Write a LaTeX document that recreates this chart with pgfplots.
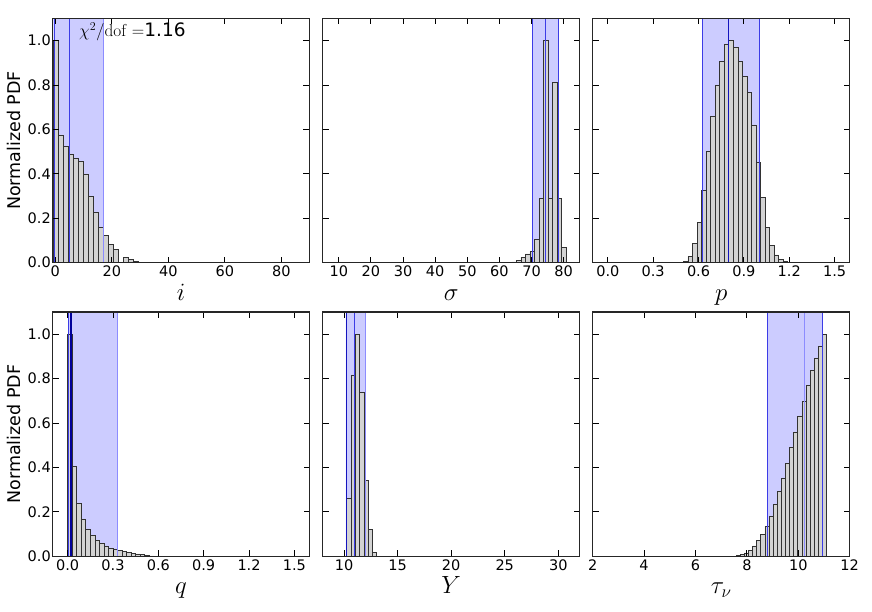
\documentclass[border=0pt]{standalone}
\usepackage[no-math]{fontspec}
\setmainfont{DejaVu Sans}
\usepackage{pgfplots}
\pgfplotsset{compat=1.18}

\definecolor{bargray}{RGB}{211,211,211}
\definecolor{baredge}{RGB}{50,50,50}
\definecolor{dkblue}{RGB}{20,20,190}
\definecolor{mdblue}{RGB}{60,60,230}
\definecolor{ltblue}{RGB}{140,140,255}

\pgfplotsset{
  panel/.style={
    scale only axis, width=257pt, height=244.4pt,
    ymin=0, ymax=1.1, ytick={0,0.2,0.4,0.6,0.8,1.0},
    axis on top,
    tick align=inside, xtick pos=both, ytick pos=both,
    xticklabel pos=lower, yticklabel pos=left,
    major tick length=6pt, minor tick num=0,
    every tick/.style={black, line width=0.9pt},
    axis line style={black!85, line width=1.3pt},
    tick label style={font=\fontsize{14.5}{16}\selectfont},
    xticklabel style={inner sep=3pt},
    yticklabel style={inner sep=1.5pt, /pgf/number format/.cd, fixed, fixed zerofill, precision=1},
    /pgf/number format/assume math mode=true,
    xlabel style={font=\fontsize{24}{28}\selectfont, at={(axis description cs:0.5,0)}, anchor=base, yshift=-37.5pt},
    ylabel style={font=\fontsize{17.5}{20}\selectfont, at={(axis description cs:-0.1245,0.5)}, rotate=0, anchor=base},
  },
  noylab/.style={yticklabel=\empty},
  hist/.style={ybar interval, fill=bargray, draw=baredge, line width=0.6pt},
  band/.style={fill=blue, fill opacity=0.2, draw=none},
}

\begin{document}
\begin{tikzpicture}
\path[use as bounding box] (0,0) rectangle (872pt,611pt);

% ---- i
\begin{axis}[panel, at={(52.5pt,348.3pt)}, anchor=south west,
  xmin=-1, xmax=90, xtick={0,20,40,60,80},
  xlabel={$i$}, ylabel={Normalized PDF}]
\addplot[band] coordinates {(-0.7,0) (-0.7,1.1) (17.0,1.1) (17.0,0)} \closedcycle;
\addplot[hist] coordinates {(-0.70,1.0) (1.07,0.575) (2.84,0.525) (4.61,0.49) (6.38,0.47) (8.15,0.455) (9.92,0.40) (11.69,0.30) (13.46,0.227) (15.23,0.16) (17.00,0.123) (18.77,0.084) (20.54,0.06) (22.31,0.0) (24.08,0.024) (25.85,0.015) (27.62,0.006) (29.39,0.003) (31.16,0)};
\addplot[mdblue, line width=0.7pt] coordinates {(-0.35,0) (-0.35,1.1)};
\addplot[mdblue, line width=0.8pt] coordinates {(4.85,0) (4.85,1.1)};
\addplot[ltblue, line width=0.8pt] coordinates {(17.0,0) (17.0,1.1)};
\node[anchor=base west, inner sep=0pt, font=\fontsize{18.5}{21}\selectfont] at (rel axis cs:0.103,0.925) {$\chi^2/\mathrm{dof}=$1.16};
\end{axis}

% ---- sigma
\begin{axis}[panel, noylab, at={(322.7pt,348.3pt)}, anchor=south west,
  xmin=5, xmax=85, xtick={10,20,30,40,50,60,70,80},
  xlabel={$\sigma$}]
\addplot[band] coordinates {(70.25,0) (70.25,1.1) (78.3,1.1) (78.3,0)} \closedcycle;
\addplot[hist] coordinates {(63.9,0.004) (65.3,0.011) (66.7,0.025) (68.1,0.04) (69.5,0.05) (70.9,0.105) (72.3,0.29) (73.7,1.0) (75.1,0.29) (76.5,0.81) (77.9,0.29) (79.3,0.07) (80.7,0)};
\addplot[mdblue, line width=0.8pt] coordinates {(70.25,0) (70.25,1.1)};
\addplot[mdblue, line width=0.8pt] coordinates {(74.2,0) (74.2,1.1)};
\addplot[mdblue, line width=0.8pt] coordinates {(78.3,0) (78.3,1.1)};
\end{axis}

% ---- p
\begin{axis}[panel, noylab, at={(592.7pt,348.3pt)}, anchor=south west,
  xmin=-0.1, xmax=1.6, xtick={0,0.3,0.6,0.9,1.2,1.5},
  xticklabel style={/pgf/number format/.cd, fixed, fixed zerofill, precision=1},
  xlabel={$p$}]
\addplot[band] coordinates {(0.625,0) (0.625,1.1) (1.0,1.1) (1.0,0)} \closedcycle;
\addplot[hist] coordinates {(0.50,0.006) (0.53,0.027) (0.56,0.087) (0.59,0.18) (0.62,0.324) (0.65,0.50) (0.68,0.66) (0.71,0.80) (0.74,0.905) (0.77,0.985) (0.80,1.0) (0.83,0.97) (0.86,0.905) (0.89,0.84) (0.92,0.765) (0.95,0.62) (0.98,0.45) (1.01,0.294) (1.04,0.158) (1.07,0.077) (1.10,0.035) (1.13,0.015) (1.16,0.006) (1.19,0)};
\addplot[mdblue, line width=0.8pt] coordinates {(0.625,0) (0.625,1.1)};
\addplot[dkblue, line width=0.8pt] coordinates {(0.80,0) (0.80,1.1)};
\addplot[mdblue, line width=0.8pt] coordinates {(1.0,0) (1.0,1.1)};
\end{axis}

% ---- q
\begin{axis}[panel, at={(52.5pt,54.7pt)}, anchor=south west, height=244.3pt,
  xmin=-0.1, xmax=1.6, xtick={0,0.3,0.6,0.9,1.2,1.5},
  xticklabel style={/pgf/number format/.cd, fixed, fixed zerofill, precision=1},
  xlabel={$q$}, ylabel={Normalized PDF}]
\addplot[band] coordinates {(0.005,0) (0.005,1.1) (0.33,1.1) (0.33,0)} \closedcycle;
\addplot[hist] coordinates {(0.00,1.0) (0.03,0.405) (0.06,0.238) (0.09,0.168) (0.12,0.123) (0.15,0.093) (0.18,0.073) (0.21,0.058) (0.24,0.047) (0.27,0.038) (0.30,0.032) (0.33,0.026) (0.36,0.021) (0.39,0.018) (0.42,0.014) (0.45,0.011) (0.48,0.008) (0.51,0.005) (0.54,0.002) (0.57,0)};
\addplot[mdblue, line width=0.8pt] coordinates {(0.005,0) (0.005,1.1)};
\addplot[blue!60!black, line width=1.2pt] coordinates {(0.022,0) (0.022,1.1)};
\addplot[ltblue, line width=0.8pt] coordinates {(0.33,0) (0.33,1.1)};
\end{axis}

% ---- Y
\begin{axis}[panel, noylab, at={(322.7pt,54.7pt)}, anchor=south west, height=244.3pt,
  xmin=8, xmax=32, xtick={10,15,20,25,30},
  xlabel={$Y$}]
\addplot[band] coordinates {(10.17,0) (10.17,1.1) (11.95,1.1) (11.95,0)} \closedcycle;
\addplot[hist] coordinates {(10.24,0.262) (10.64,0.817) (11.04,1.0) (11.44,0.74) (11.84,0.34) (12.24,0.12) (12.64,0.018) (13.04,0)};
\addplot[dkblue, line width=0.8pt] coordinates {(10.17,0) (10.17,1.1)};
\addplot[mdblue, line width=0.8pt] coordinates {(11.0,0) (11.0,1.1)};
\addplot[ltblue, line width=0.8pt] coordinates {(11.95,0) (11.95,1.1)};
\end{axis}

% ---- tau_nu
\begin{axis}[panel, noylab, at={(592.7pt,54.7pt)}, anchor=south west, height=244.3pt,
  xmin=2, xmax=12, xtick={2,4,6,8,10,12},
  xlabel={$\tau_\nu$}]
\addplot[band] coordinates {(8.79,0) (8.79,1.1) (10.92,1.1) (10.92,0)} \closedcycle;
\addplot[hist] coordinates {(7.58,0.003) (7.74,0.008) (7.90,0.015) (8.06,0.027) (8.22,0.047) (8.38,0.07) (8.54,0.098) (8.70,0.135) (8.86,0.18) (9.02,0.233) (9.18,0.293) (9.34,0.353) (9.50,0.42) (9.66,0.49) (9.82,0.56) (9.98,0.632) (10.14,0.70) (10.30,0.77) (10.46,0.838) (10.62,0.893) (10.78,0.947) (10.94,1.0) (11.10,0)};
\addplot[mdblue, line width=0.8pt] coordinates {(8.79,0) (8.79,1.1)};
\addplot[ltblue, line width=0.8pt] coordinates {(10.22,0) (10.22,1.1)};
\addplot[mdblue, line width=0.8pt] coordinates {(10.92,0) (10.92,1.1)};
\end{axis}
\end{tikzpicture}
\end{document}
